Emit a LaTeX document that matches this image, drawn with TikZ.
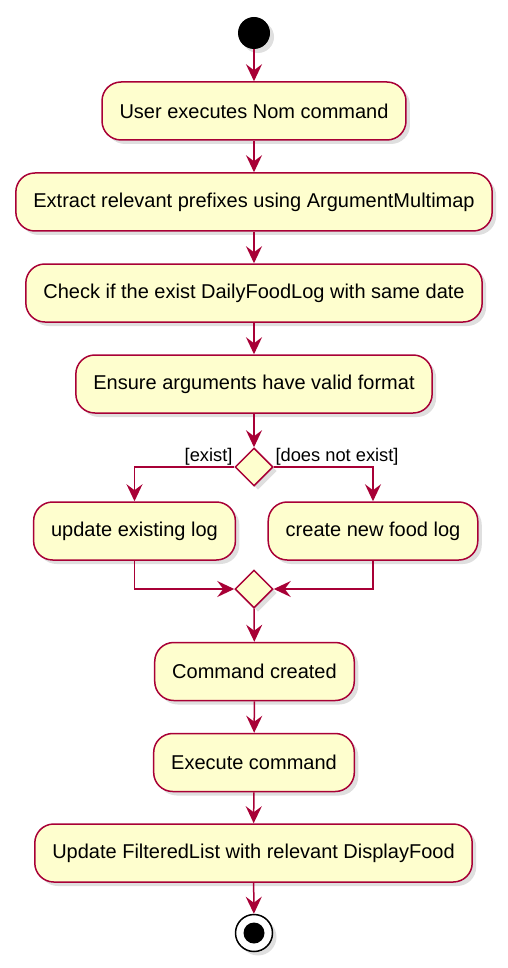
\documentclass[tikz,border=0pt]{standalone}
\usepackage{fontspec}
\setmainfont{Liberation Sans}
\usetikzlibrary{arrows.meta,shapes.geometric,shadows}
\definecolor{umlred}{HTML}{A80036}
\definecolor{umlfill}{HTML}{FEFECE}
\tikzset{
    actbox/.style={draw=umlred, fill=umlfill, line width=1.5pt, rounded corners=19pt,
        minimum height=58pt, inner xsep=17.5pt, font=\fontsize{20}{24}\selectfont,
        drop shadow={shadow xshift=4pt, shadow yshift=-4pt, opacity=0.25}},
    choice/.style={draw=umlred, fill=umlfill, line width=1.5pt, diamond, minimum size=38pt,
        inner sep=0pt, drop shadow={shadow xshift=4pt, shadow yshift=-4pt, opacity=0.25}},
    flow/.style={draw=umlred, line width=1.5pt, -{Stealth[length=17pt, width=16pt, inset=6pt]}},
    guard/.style={font=\fontsize{18.3}{20}\selectfont, inner sep=1pt}
}
\begin{document}
\begin{tikzpicture}[x=1pt, y=-1pt]
        \useasboundingbox (0,0) rectangle (508,968);
        \node[circle, fill=black, minimum size=32pt, inner sep=0pt,
            drop shadow={shadow xshift=4pt, shadow yshift=-4pt, opacity=0.25}] (start) at (254,33) {};
        \node[actbox] (nom) at (254,111) {User executes Nom command};
        \node[actbox] (extract) at (254,202) {Extract relevant prefixes using ArgumentMultimap};
        \node[actbox] (check) at (254,293) {Check if the exist DailyFoodLog with same date};
        \node[actbox] (ensure) at (254,384) {Ensure arguments have valid format};
        \node[choice] (split) at (254,467) {};
        \node[actbox] (update) at (134.5,531) {update existing log};
        \node[actbox] (create) at (373,531) {create new food log};
        \node[choice] (merge) at (254,589) {};
        \node[actbox] (created) at (254.5,671.5) {Command created};
        \node[actbox] (execute) at (254,762.5) {Execute command};
        \node[actbox] (filtered) at (253.5,853) {Update FilteredList with relevant DisplayFood};
        \node[circle, draw=black, fill=white, line width=1.5pt, minimum size=37pt, inner sep=0pt,
            drop shadow={shadow xshift=4pt, shadow yshift=-4pt, opacity=0.25}] (stop) at (254,933) {};
        \node[circle, fill=black, minimum size=21pt, inner sep=0pt] (stopdot) at (stop) {};
        % main flow
        \draw[flow] (start) -- (nom);
        \draw[flow] (nom) -- (extract);
        \draw[flow] (extract) -- (check);
        \draw[flow] (check) -- (ensure);
        \draw[flow] (ensure) -- (split);
        \draw[flow] (split.west) -| node[pos=0, guard, anchor=south east] {[exist]} (update.north);
        \draw[flow] (split.east) -| node[pos=0, guard, anchor=south west] {[does not exist]} (create.north);
        \draw[flow] (update.south) |- (merge.west);
        \draw[flow] (create.south) |- (merge.east);
        \draw[flow] (merge) -- (created);
        \draw[flow] (created) -- (execute);
        \draw[flow] (execute) -- (filtered);
        \draw[flow] (filtered) -- (stop);
    \end{tikzpicture}
\end{document}
